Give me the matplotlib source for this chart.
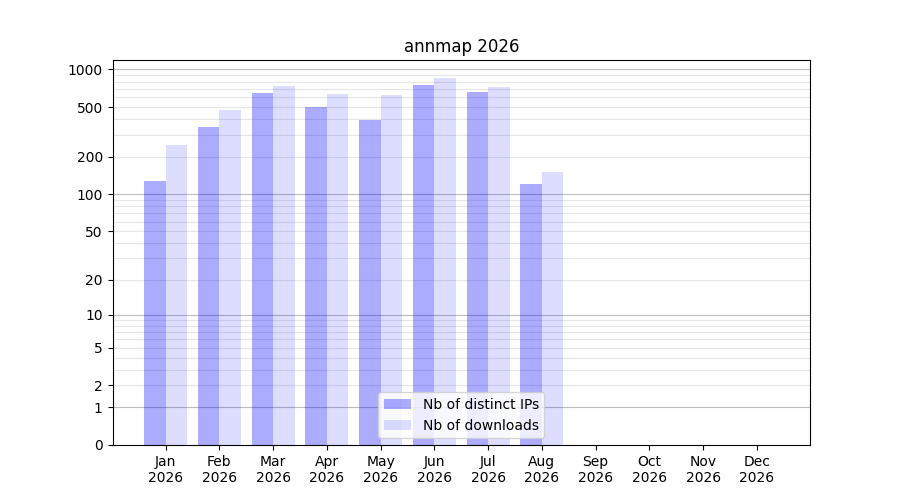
import numpy as np
import matplotlib
matplotlib.use("Agg")
import matplotlib.pyplot as plt

months = ["Jan", "Feb", "Mar", "Apr", "May", "Jun", "Jul", "Aug", "Sep", "Oct", "Nov", "Dec"]
year = "2026"
distinct_ips = [128, 346, 646, 500, 393, 749, 658, 121]
downloads = [248, 473, 735, 634, 623, 851, 722, 151]

y_ticks = [0, 1, 2, 5, 10, 20, 50, 100, 200, 500, 1000]
decade_lines = [1, 10, 100, 1000]
minor_lines = [m * d for d in (1, 10, 100) for m in range(2, 10)]


def fwd(v):
    return np.log10(1 + np.clip(v, 0, None))


def inv(v):
    return 10 ** v - 1


fig, ax = plt.subplots(figsize=(9, 5), dpi=100)
ax.set_yscale("function", functions=(fwd, inv))

x = np.arange(len(months))
w = 0.4
ax.bar(x[:len(distinct_ips)] - w, distinct_ips, width=w, align="edge",
       color="blue", alpha=0.33, linewidth=0, label="Nb of distinct IPs")
ax.bar(x[:len(downloads)], downloads, width=w, align="edge",
       color="blue", alpha=0.135, linewidth=0, label="Nb of downloads")

for v in minor_lines:
    ax.axhline(v, color="#e6e6e6", linewidth=0.8, zorder=0.5)
for v in decade_lines:
    ax.axhline(v, color="#bdbdbd", linewidth=0.8, zorder=0.5)

ax.set_yticks(y_ticks)
ax.set_yticklabels([str(t) for t in y_ticks])
ax.yaxis.set_minor_locator(matplotlib.ticker.NullLocator())
ax.set_ylim(0, 1190)

ax.set_xticks(x)
ax.set_xticklabels([f"{m}\n{year}" for m in months])
ax.set_xlim(-0.99, len(months) - 0.01)

ax.set_title("annmap " + year)
ax.legend(loc="lower center")

plt.savefig("out.png", dpi=100)
